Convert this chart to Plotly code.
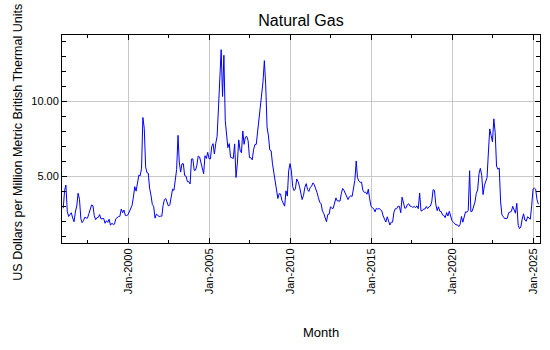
import plotly.graph_objects as go
import pandas as pd

# Monthly natural gas price (US$/MMBtu), Jan 1996 .. May 2025
p1996 = [2.85, 4.05, 4.40, 2.65, 2.30, 2.45, 2.55, 2.20, 1.95, 2.60, 3.00, 3.85]
p1997 = [3.45, 2.15, 1.89, 2.03, 2.25, 2.20, 2.19, 2.49, 2.88, 3.07, 3.01, 2.35]
p1998 = [2.09, 2.23, 2.24, 2.43, 2.14, 2.17, 2.17, 1.85, 2.02, 1.91, 2.12, 1.72]
p1999 = [1.85, 1.77, 1.79, 2.15, 2.26, 2.30, 2.31, 2.80, 2.55, 2.73, 2.37, 2.36]
p2000 = [2.42, 2.66, 2.79, 3.04, 3.59, 4.29, 3.99, 4.43, 5.06, 5.02, 5.52, 8.90]
p2001 = [8.17, 5.61, 5.23, 5.19, 4.19, 3.72, 3.11, 2.97, 2.19, 2.46, 2.34, 2.30]
p2002 = [2.32, 2.32, 3.03, 3.43, 3.50, 3.26, 2.99, 3.09, 3.55, 4.13, 4.04, 4.74]
p2003 = [5.43, 7.71, 5.93, 5.26, 5.81, 5.82, 5.03, 4.99, 4.62, 4.63, 4.47, 6.13]
p2004 = [6.14, 5.37, 5.39, 5.71, 6.33, 6.27, 5.93, 5.41, 5.15, 6.35, 6.17, 6.58]
p2005 = [6.15, 6.14, 6.96, 7.16, 6.47, 7.18, 7.63, 9.53, 11.75, 13.42, 10.30, 13.05]
p2006 = [8.69, 7.54, 6.89, 7.16, 6.25, 6.21, 6.17, 7.14, 4.90, 5.85, 7.41, 6.73]
p2007 = [6.55, 8.00, 7.11, 7.60, 7.64, 7.35, 6.22, 6.22, 6.08, 6.74, 7.10, 7.11]
p2008 = [7.99, 8.54, 9.41, 10.18, 11.27, 12.69, 11.09, 8.26, 7.67, 6.74, 6.68, 5.82]
p2009 = [5.24, 4.52, 3.96, 3.50, 3.83, 3.80, 3.38, 3.14, 2.99, 4.01, 3.66, 5.35]
p2010 = [5.83, 5.32, 4.29, 4.03, 4.14, 4.80, 4.63, 4.32, 3.89, 3.43, 3.71, 4.25]
p2011 = [4.49, 4.09, 3.97, 4.24, 4.31, 4.54, 4.42, 4.06, 3.90, 3.57, 3.24, 3.17]
p2012 = [2.67, 2.50, 2.17, 1.95, 2.43, 2.46, 2.95, 2.84, 2.85, 3.32, 3.54, 3.34]
p2013 = [3.33, 3.33, 3.81, 4.17, 4.04, 3.83, 3.62, 3.43, 3.62, 3.68, 3.64, 4.24]
p2014 = [4.71, 6.00, 4.90, 4.66, 4.58, 4.59, 4.05, 3.91, 3.92, 3.78, 4.12, 3.48]
p2015 = [2.99, 2.87, 2.83, 2.61, 2.85, 2.78, 2.84, 2.77, 2.66, 2.34, 2.09, 1.93]
p2016 = [2.28, 1.99, 1.73, 1.92, 1.92, 2.59, 2.82, 2.82, 2.99, 2.98, 2.55, 3.59]
p2017 = [3.30, 2.85, 2.88, 3.10, 3.15, 2.98, 2.98, 2.90, 2.98, 2.88, 3.01, 2.82]
p2018 = [3.87, 2.67, 2.69, 2.80, 2.80, 2.97, 2.83, 2.96, 3.00, 3.28, 4.09, 4.04]
p2019 = [3.11, 2.69, 2.95, 2.65, 2.64, 2.40, 2.37, 2.22, 2.56, 2.33, 2.65, 2.22]
p2020 = [2.02, 1.91, 1.79, 1.74, 1.75, 1.63, 1.77, 2.30, 1.92, 2.39, 2.61, 2.59]
p2021 = [2.71, 5.35, 2.62, 2.66, 2.91, 3.26, 3.84, 4.07, 5.16, 5.51, 5.05, 3.76]
p2022 = [4.38, 4.69, 4.90, 6.60, 8.14, 7.70, 7.28, 8.81, 7.88, 5.66, 5.45, 5.53]
p2023 = [3.27, 2.38, 2.31, 2.16, 2.15, 2.18, 2.55, 2.58, 2.64, 2.98, 2.71, 2.52]
p2024 = [3.18, 1.72, 1.49, 1.60, 2.12, 2.48, 2.06, 1.99, 2.28, 2.20, 2.12, 3.01]
p2025 = [4.13, 4.19, 4.12, 3.42, 3.12]

years = [p1996, p1997, p1998, p1999, p2000, p2001, p2002, p2003, p2004, p2005,
         p2006, p2007, p2008, p2009, p2010, p2011, p2012, p2013, p2014, p2015,
         p2016, p2017, p2018, p2019, p2020, p2021, p2022, p2023, p2024, p2025]
values = [v for yr in years for v in yr]
months = pd.date_range("1996-01-01", periods=len(values), freq="MS")

title_text = "Natural Gas"
y_title = "US Dollars per Million Metric British Thermal Units"
x_title = "Month"

FONT = "Arial, Liberation Sans, sans-serif"

fig = go.Figure()
fig.add_trace(go.Scatter(x=months, y=values, mode="lines",
                         line=dict(color="#0000ff", width=1), hoverinfo="skip"))

fig.update_layout(
    width=550, height=350,
    margin=dict(l=62, r=10, t=35, b=107),
    paper_bgcolor="white", plot_bgcolor="white",
    showlegend=False,
    font=dict(family=FONT, size=11, color="black"),
    title=dict(text=title_text, x=0.5, xref="paper", xanchor="center",
               y=1 - 20 / 350, yanchor="middle", yref="container",
               font=dict(family=FONT, size=16, color="black")),
)

fig.update_xaxes(
    type="date",
    range=["1995-12-04", "2025-06-07"],
    tick0="2000-01-01", dtick="M60", tickformat="%b-%Y", tickangle=-90,
    showgrid=True, gridcolor="#c8c8c8", gridwidth=1,
    showline=True, linecolor="black", linewidth=1, mirror="allticks",
    ticks="inside", ticklen=5, tickcolor="black",
    minor=dict(ticks="inside", ticklen=3, tickcolor="black", dtick="M30",
               tick0="2000-01-01", showgrid=False),
    tickfont=dict(family=FONT, size=11, color="black"),
    zeroline=False,
)
fig.update_yaxes(
    range=[0.533, 14.4],
    tick0=0, dtick=5, tickformat=".2f",
    showgrid=True, gridcolor="#c8c8c8", gridwidth=1,
    showline=True, linecolor="black", linewidth=1, mirror="allticks",
    ticks="inside", ticklen=5, tickcolor="black",
    minor=dict(ticks="inside", ticklen=4, tickcolor="black", dtick=1,
               showgrid=False),
    tickfont=dict(family=FONT, size=11, color="black"),
    zeroline=False,
)

# axis titles as annotations to match reference placement
fig.add_annotation(text=y_title, textangle=-90, showarrow=False,
                   xref="paper", yref="paper",
                   x=(17.7 - 62) / 478, y=(243 - 142) / 208,
                   xanchor="center", yanchor="middle",
                   font=dict(family=FONT, size=12.5, color="black"))
fig.add_annotation(text=x_title, showarrow=False,
                   xref="paper", yref="paper",
                   x=(320.5 - 62) / 478, y=(243 - 332) / 208,
                   xanchor="center", yanchor="middle",
                   font=dict(family=FONT, size=13, color="black"))

fig.write_html("out.html")
